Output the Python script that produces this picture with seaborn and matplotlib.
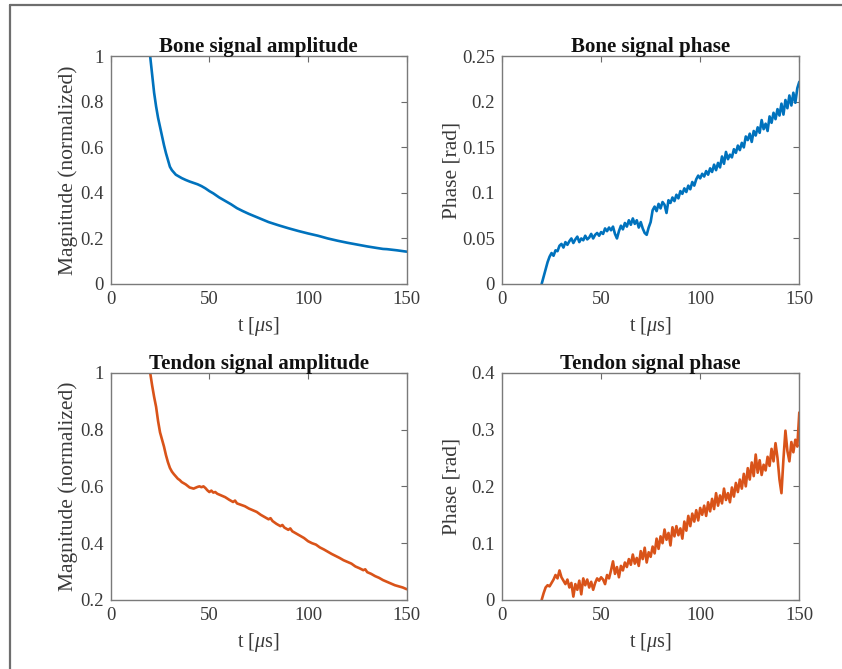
import numpy as np
import pandas as pd
import matplotlib
matplotlib.use("Agg")
import matplotlib.pyplot as plt
from matplotlib.lines import Line2D
import seaborn as sns

# ---------------- data ----------------
bone_amp_t = [20, 21, 22, 23, 24, 25, 26, 27, 28, 29, 30, 31, 32, 33, 34, 35, 36, 38, 40, 42, 44,
              46, 48, 50, 52, 55, 58, 61, 64, 67, 70, 75, 80, 85, 90, 95, 100, 105, 110, 115,
              120, 125, 130, 135, 138, 140, 145, 150]
bone_amp = [1.0, 0.92, 0.84, 0.78, 0.73, 0.69, 0.65, 0.61, 0.575, 0.545, 0.515, 0.50, 0.49, 0.48,
            0.475, 0.47, 0.465, 0.457, 0.450, 0.444, 0.438, 0.430, 0.420, 0.408, 0.398, 0.38,
            0.365, 0.35, 0.333, 0.320, 0.308, 0.290, 0.272, 0.258, 0.245, 0.233, 0.222, 0.212,
            0.200, 0.190, 0.181, 0.173, 0.165, 0.158, 0.154, 0.153, 0.148, 0.142]

phase_t = list(range(20, 151))
bone_phase = [0.000, 0.008, 0.016, 0.024, 0.030, 0.034, 0.031, 0.037, 0.036, 0.042,
              0.044, 0.040, 0.046, 0.043, 0.047, 0.050, 0.045, 0.049, 0.052, 0.046,
              0.050, 0.048, 0.053, 0.049, 0.051, 0.055, 0.050, 0.054, 0.056, 0.053,
              0.057, 0.055, 0.061, 0.058, 0.062, 0.059, 0.063, 0.055, 0.050, 0.058,
              0.064, 0.060, 0.067, 0.063, 0.070, 0.065, 0.072, 0.066, 0.070, 0.062,
              0.068, 0.061, 0.056, 0.054, 0.062, 0.068, 0.081, 0.085, 0.080, 0.088,
              0.083, 0.090, 0.087, 0.078, 0.092, 0.089, 0.095, 0.091, 0.098, 0.094,
              0.102, 0.099, 0.105, 0.101, 0.108, 0.104, 0.112, 0.108, 0.115, 0.119,
              0.116, 0.121, 0.118, 0.124, 0.120, 0.127, 0.123, 0.131, 0.125, 0.133,
              0.128, 0.140, 0.132, 0.145, 0.137, 0.142, 0.139, 0.148, 0.144, 0.152,
              0.147, 0.155, 0.150, 0.162, 0.158, 0.165, 0.156, 0.168, 0.163, 0.172,
              0.166, 0.180, 0.170, 0.176, 0.168, 0.184, 0.177, 0.188, 0.181, 0.192,
              0.185, 0.198, 0.186, 0.202, 0.193, 0.207, 0.196, 0.210, 0.199, 0.215,
              0.222]

tendon_amp_t = [20, 21, 22, 23, 24, 25, 26, 27, 28, 29, 30, 31, 32, 33, 34, 35, 36, 38, 40, 42,
                44, 45, 46, 47, 48, 49, 50, 51, 52, 53, 54, 56, 58, 60, 62, 63, 64, 66, 68, 70,
                72, 74, 76, 78, 80, 81, 82, 84, 86, 87, 88, 90, 91, 92, 94, 96, 98, 100, 102,
                104, 106, 108, 110, 112, 114, 116, 118, 120, 122, 124, 126, 128, 129, 130, 132,
                134, 136, 138, 140, 142, 144, 146, 148, 150]
tendon_amp = [1.0, 0.955, 0.915, 0.88, 0.83, 0.79, 0.765, 0.74, 0.71, 0.685, 0.665, 0.652, 0.643,
              0.635, 0.627, 0.622, 0.615, 0.607, 0.596, 0.592, 0.598, 0.600, 0.597, 0.600, 0.594,
              0.586, 0.580, 0.585, 0.578, 0.580, 0.574, 0.568, 0.562, 0.553, 0.545, 0.550, 0.540,
              0.535, 0.530, 0.522, 0.516, 0.510, 0.500, 0.492, 0.484, 0.488, 0.478, 0.468, 0.460,
              0.464, 0.455, 0.447, 0.452, 0.442, 0.434, 0.426, 0.418, 0.407, 0.400, 0.395, 0.385,
              0.378, 0.370, 0.362, 0.355, 0.348, 0.340, 0.334, 0.328, 0.318, 0.312, 0.305, 0.308,
              0.298, 0.292, 0.284, 0.278, 0.270, 0.264, 0.258, 0.252, 0.248, 0.244, 0.238]

tendon_phase = [0.000, 0.012, 0.022, 0.026, 0.024, 0.030, 0.036, 0.044, 0.038, 0.052,
                0.040, 0.034, 0.028, 0.036, 0.022, 0.030, 0.006, 0.028, 0.018, 0.034,
                0.010, 0.038, 0.026, 0.036, 0.022, 0.032, 0.018, 0.030, 0.038, 0.034,
                0.040, 0.036, 0.028, 0.044, 0.038, 0.052, 0.068, 0.046, 0.058, 0.040,
                0.060, 0.052, 0.066, 0.058, 0.072, 0.062, 0.080, 0.064, 0.074, 0.060,
                0.086, 0.072, 0.092, 0.066, 0.084, 0.076, 0.094, 0.082, 0.108, 0.090,
                0.112, 0.100, 0.124, 0.106, 0.118, 0.096, 0.128, 0.112, 0.130, 0.114,
                0.126, 0.108, 0.138, 0.122, 0.148, 0.130, 0.152, 0.138, 0.158, 0.140,
                0.162, 0.150, 0.166, 0.148, 0.172, 0.156, 0.178, 0.160, 0.188, 0.166,
                0.184, 0.170, 0.196, 0.176, 0.188, 0.172, 0.198, 0.182, 0.206, 0.190,
                0.212, 0.196, 0.222, 0.200, 0.232, 0.212, 0.242, 0.218, 0.256, 0.224,
                0.246, 0.220, 0.238, 0.228, 0.252, 0.236, 0.266, 0.244, 0.276, 0.250,
                0.212, 0.188, 0.248, 0.298, 0.262, 0.244, 0.278, 0.260, 0.282, 0.270,
                0.330]

titles = ["Bone signal amplitude", "Bone signal phase",
          "Tendon signal amplitude", "Tendon signal phase"]
ylabels = ["Magnitude (normalized)", "Phase [rad]",
           "Magnitude (normalized)", "Phase [rad]"]
xticks = [0, 50, 100, 150]
yticks_list = [[0, 0.2, 0.4, 0.6, 0.8, 1],
               [0, 0.05, 0.1, 0.15, 0.2, 0.25],
               [0.2, 0.4, 0.6, 0.8, 1],
               [0, 0.1, 0.2, 0.3, 0.4]]
ytick_labels = [["0", "0.2", "0.4", "0.6", "0.8", "1"],
                ["0", "0.05", "0.1", "0.15", "0.2", "0.25"],
                ["0.2", "0.4", "0.6", "0.8", "1"],
                ["0", "0.1", "0.2", "0.3", "0.4"]]
ylims = [(0, 1), (0, 0.25), (0.2, 1), (0, 0.4)]

BLUE = "#0072BD"
ORANGE = "#D95319"

# ---------------- style ----------------
sns.set_theme(style="white")
plt.rcParams["font.family"] = ["Liberation Serif", "DejaVu Serif"]
plt.rcParams["mathtext.fontset"] = "custom"
plt.rcParams["mathtext.rm"] = "Liberation Serif"
plt.rcParams["mathtext.it"] = "Liberation Serif:italic"

W, H = 842, 669
fig = plt.figure(figsize=(W / 100, H / 100), dpi=100)
fig.patch.set_facecolor("white")

def px_axes(x0, y0, x1, y1):
    return fig.add_axes([x0 / W, 1 - y1 / H, (x1 - x0) / W, (y1 - y0) / H])

boxes = [(110.7, 56.3, 406.7, 284), (502, 56.3, 799.3, 284),
         (110.7, 372.7, 406.7, 600), (502, 372.7, 799.3, 600)]
ylabel_x = [78, 461, 78, 461]

series = [
    (bone_amp_t, bone_amp, BLUE),
    (phase_t, bone_phase, BLUE),
    (tendon_amp_t, tendon_amp, ORANGE),
    (phase_t, tendon_phase, ORANGE),
]

for i, (box, (tx, ty, col)) in enumerate(zip(boxes, series)):
    ax = px_axes(*box)
    df = pd.DataFrame({"t": tx, "v": ty})
    sns.lineplot(data=df, x="t", y="v", ax=ax, color=col, linewidth=1.9,
                 estimator=None, sort=False)
    ax.set_xlim(0, 150)
    ax.set_ylim(*ylims[i])
    ax.set_xticks(xticks)
    ax.set_xticklabels([str(v) for v in xticks])
    ax.set_yticks(yticks_list[i])
    ax.set_yticklabels(ytick_labels[i])
    ax.tick_params(direction="in", length=4, width=0.8, color="#6a6a6a",
                   top=True, right=True, labelsize=13.5, labelcolor="#3a3a3a",
                   pad=5)
    for sp in ax.spines.values():
        sp.set_visible(True)
        sp.set_color("#7a7a7a")
        sp.set_linewidth(1.0)
    ax.set_title(titles[i], fontsize=15, fontweight="bold", color="#111111", pad=3)
    ax.set_xlabel(r"t [$\mu$s]", fontsize=14.5, color="#3a3a3a", labelpad=5)
    ax.set_ylabel(ylabels[i], fontsize=15.5, color="#3a3a3a")
    x0, y0, x1, y1 = box
    ax.yaxis.set_label_coords((ylabel_x[i] - x0) / (x1 - x0), 0.5)

# frame lines (top and left)
fig.add_artist(Line2D([9.5 / W, 9.5 / W], [0, 1 - 5 / H], transform=fig.transFigure,
                      color="#6e6e6e", linewidth=1.6))
fig.add_artist(Line2D([9.5 / W, 1], [1 - 5 / H, 1 - 5 / H], transform=fig.transFigure,
                      color="#6e6e6e", linewidth=1.6))

fig.savefig("out.png", dpi=100)
